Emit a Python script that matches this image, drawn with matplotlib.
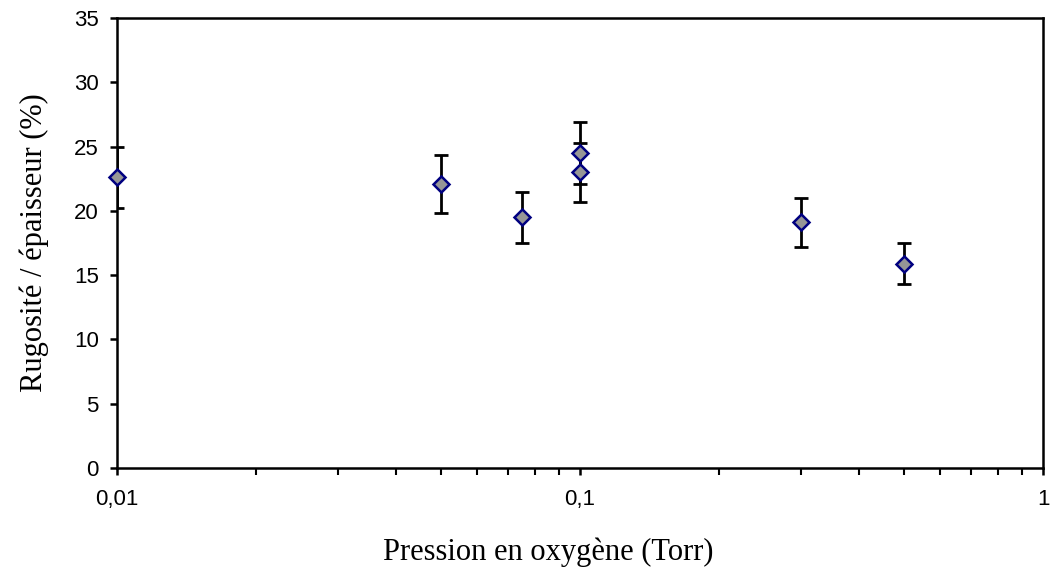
import matplotlib
matplotlib.use("Agg")
import matplotlib.pyplot as plt
from matplotlib.ticker import FixedLocator, FuncFormatter, LogLocator, NullFormatter

pressure = [0.01, 0.05, 0.075, 0.1, 0.1, 0.3, 0.5]
roughness = [22.6, 22.1, 19.5, 24.5, 23.0, 19.1, 15.9]
err = [2.35, 2.25, 2.0, 2.4, 2.3, 1.9, 1.6]

xlabel = "Pression en oxygène (Torr)"
ylabel = "Rugosité / épaisseur (%)"

fig = plt.figure(figsize=(10.51, 5.72), dpi=100)
ax = fig.add_axes([0.1113, 0.1818, 0.8811, 0.7867])

ax.errorbar(pressure, roughness, yerr=err, fmt='none', ecolor='black',
            elinewidth=2, capsize=4.7, capthick=2, zorder=2)
ax.plot(pressure, roughness, linestyle='none', marker='D', markersize=8,
        markerfacecolor='#969696', markeredgecolor='#000080',
        markeredgewidth=1.8, zorder=3, clip_on=False)

ax.set_xscale('log')
ax.set_xlim(0.01, 1)
ax.set_ylim(0, 35)
ax.yaxis.set_major_locator(FixedLocator([0, 5, 10, 15, 20, 25, 30, 35]))
ax.xaxis.set_major_locator(FixedLocator([0.01, 0.1, 1]))
ax.xaxis.set_minor_locator(LogLocator(base=10, subs=range(2, 10)))
ax.xaxis.set_minor_formatter(NullFormatter())

def fmt(v, pos):
    s = ('%g' % v).replace('.', ',')
    return s
ax.xaxis.set_major_formatter(FuncFormatter(fmt))

for s in ax.spines.values():
    s.set_linewidth(1.8)
    s.set_color('black')

ax.tick_params(axis='both', which='major', direction='out', length=5, width=1.8,
               labelsize=16)
ax.tick_params(axis='x', which='major', pad=10)
ax.tick_params(axis='y', which='major', pad=8)
ax.tick_params(axis='x', which='minor', direction='out', length=5, width=1.5)
for lab in ax.get_xticklabels() + ax.get_yticklabels():
    lab.set_fontfamily('Liberation Sans')

ax.set_xlabel(xlabel, fontfamily='Liberation Serif', fontsize=22, labelpad=22)
ax.xaxis.set_label_coords(0.466, -0.155)
ax.set_ylabel(ylabel, fontfamily='Liberation Serif', fontsize=22, labelpad=18)

fig.savefig('out.png', dpi=100)
